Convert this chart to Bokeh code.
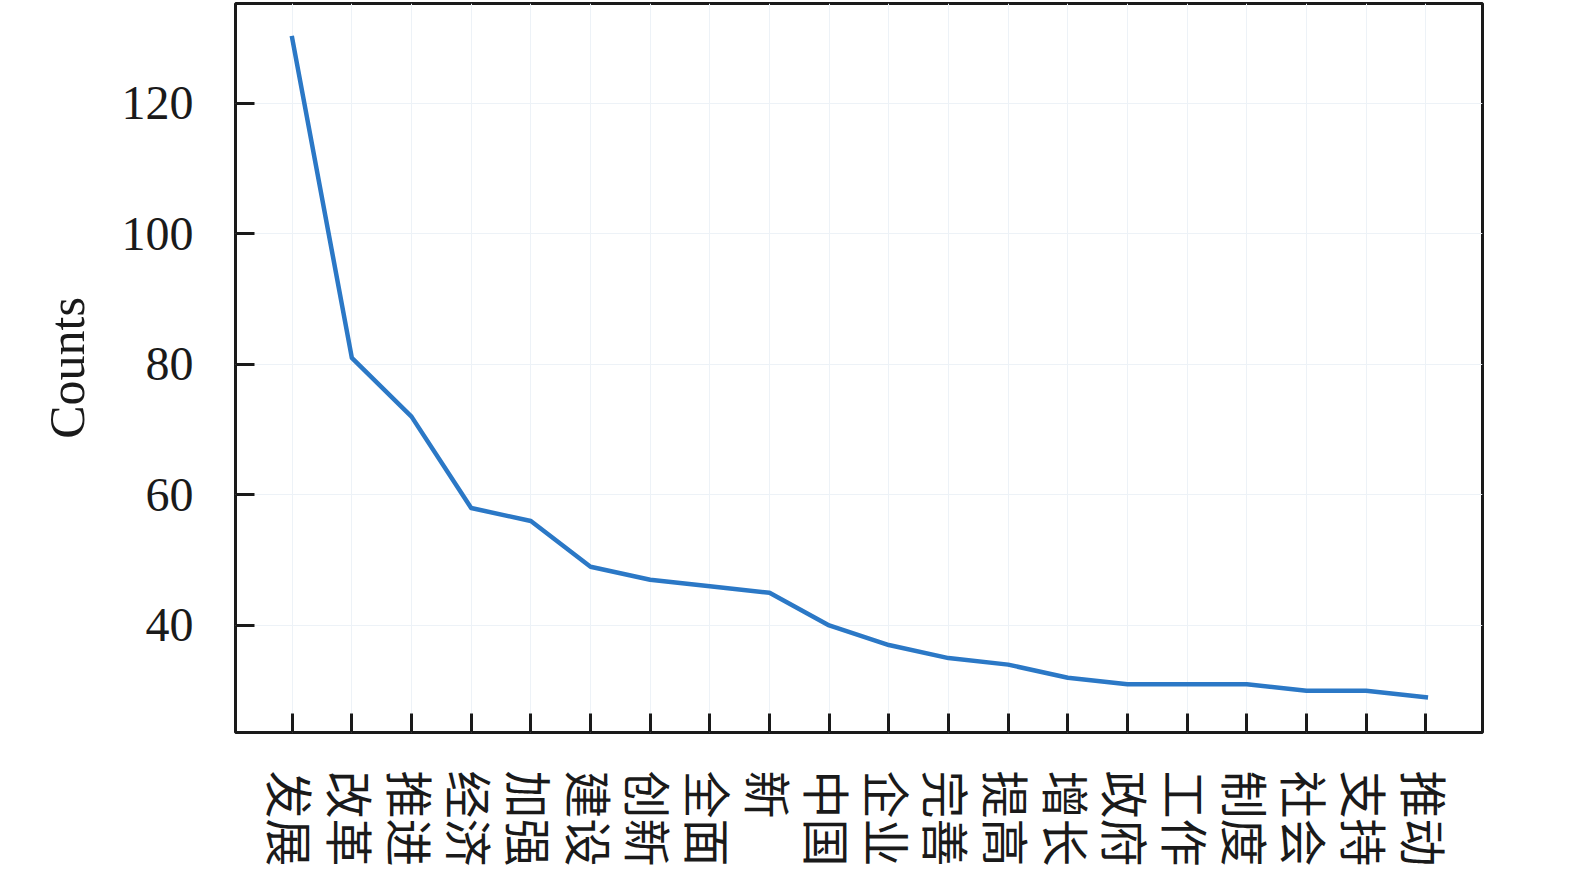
from bokeh.plotting import figure
from bokeh.models import FixedTicker, Range1d
from bokeh.embed import file_html
from bokeh.resources import INLINE

words = ["发展", "改革", "推进", "经济", "加强", "建设", "创新", "全面", "新", "中国",
         "企业", "完善", "提高", "增长", "政府", "工作", "制度", "社会", "支持", "推动"]
counts = [130, 81, 72, 58, 56, 49, 47, 46, 45, 40,
          37, 35, 34, 32, 31, 31, 31, 30, 30, 29]
y_ticks = [40, 60, 80, 100, 120]

idx = list(range(len(words)))

p = figure(width=1570, height=872, output_backend="svg", toolbar_location=None,
           x_range=Range1d(-0.95, len(words) - 1 + 0.95),
           y_range=Range1d(23.6, 135.3),
           min_border_left=235, min_border_right=88,
           min_border_top=3, min_border_bottom=140)

p.line(idx, counts, line_width=4.5, color="#2b78c6", line_join="round", line_cap="square")

p.outline_line_color = "#1a1a1a"
p.outline_line_width = 3

# x axis
xa = p.xaxis[0]
xa.ticker = FixedTicker(ticks=idx)
xa.major_label_overrides = {i: w for i, w in zip(idx, words)}
xa.major_label_orientation = "vertical"
xa.major_label_text_font = "Noto Sans CJK SC"
xa.major_label_text_font_size = "48px"
xa.major_label_text_color = "#1a1a1a"
xa.major_label_standoff = 38
xa.axis_line_color = None
xa.major_tick_in = 19
xa.major_tick_out = 0
xa.major_tick_line_width = 3
xa.major_tick_line_color = "#1a1a1a"
xa.minor_tick_line_color = None

# y axis
ya = p.yaxis[0]
ya.ticker = FixedTicker(ticks=y_ticks)
ya.major_label_text_font = "Liberation Serif"
ya.major_label_text_font_size = "48px"
ya.major_label_text_color = "#1a1a1a"
ya.major_label_standoff = 42
ya.axis_line_color = None
ya.major_tick_in = 19
ya.major_tick_out = 0
ya.major_tick_line_width = 3
ya.major_tick_line_color = "#1a1a1a"
ya.minor_tick_line_color = None
ya.axis_label = "Counts"
ya.axis_label_text_font = "Liberation Serif"
ya.axis_label_text_font_size = "50px"
ya.axis_label_text_font_style = "normal"
ya.axis_label_text_color = "#1a1a1a"
ya.axis_label_standoff = 24

p.xgrid.grid_line_color = "#edf2f7"
p.ygrid.grid_line_color = "#edf2f7"
p.xgrid.grid_line_width = 1
p.ygrid.grid_line_width = 1

open("out.html", "w").write(file_html(p, INLINE))
